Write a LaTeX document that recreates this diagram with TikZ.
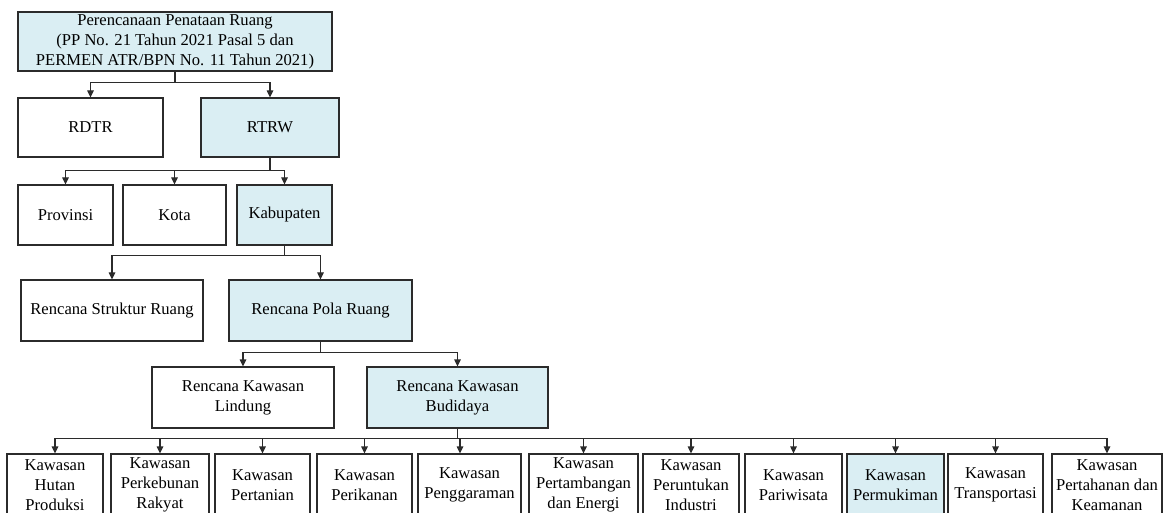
\documentclass[tikz,border=0pt]{standalone}
\usepackage{fontspec}
\setmainfont{Liberation Serif}
\usetikzlibrary{arrows.meta}
\definecolor{boxblue}{HTML}{DAEEF3}
\definecolor{edge}{HTML}{2B2B2B}
\tikzset{
  box/.style={draw=edge, line width=1.2pt, fill=white, align=center, inner sep=0pt,
    font=\fontsize{16.6}{20}\selectfont, anchor=center},
  hl/.style={fill=boxblue},
  conn/.style={draw=edge, line width=1.2pt, -{Triangle[length=7pt,width=6.5pt]}},
}
\begin{document}
\begin{tikzpicture}[x=1pt,y=-1pt]
\useasboundingbox (0,0) rectangle (1165,513);
\clip (0,0) rectangle (1165,513);
\fill[white] (0,0) rectangle (1165,513);
% level 0
\node[box,hl,minimum width=314pt,minimum height=59pt] (top) at (175,41.5)
  {Perencanaan Penataan Ruang\\(PP No. 21 Tahun 2021 Pasal 5 dan\\PERMEN ATR/BPN No. 11 Tahun 2021)};
% level 1
\node[box,minimum width=145pt,minimum height=59pt] (rdtr) at (90.5,127.5) {RDTR};
\node[box,hl,minimum width=138pt,minimum height=59pt] (rtrw) at (270,127.5) {RTRW};
% level 2
\node[box,minimum width=95pt,minimum height=60pt] (prov) at (65.5,215) {Provinsi};
\node[box,minimum width=103pt,minimum height=60pt] (kota) at (174.5,215) {Kota};
\node[box,hl,minimum width=95pt,minimum height=60pt] (kab) at (284.5,215) {Kabupaten};
% level 3
\node[box,minimum width=182pt,minimum height=61pt] (struk) at (112,310.5) {Rencana Struktur Ruang};
\node[box,hl,minimum width=183pt,minimum height=61pt] (pola) at (320.5,310.5) {Rencana Pola Ruang};
% level 4
\node[box,minimum width=182pt,minimum height=61pt] (lind) at (243,397.5) {Rencana Kawasan\\Lindung};
\node[box,hl,minimum width=181pt,minimum height=61pt] (budi) at (457.5,397.5) {Rencana Kawasan\\Budidaya};
% level 5
\node[box,minimum width=96pt,minimum height=62pt] (b1) at (55,485) {Kawasan\\Hutan\\Produksi};
\node[box,minimum width=98pt,minimum height=62pt] (b2) at (160,485) {Kawasan\\Perkebunan\\Rakyat};
\node[box,minimum width=95pt,minimum height=62pt] (b3) at (262.5,485) {Kawasan\\Pertanian};
\node[box,minimum width=95pt,minimum height=62pt] (b4) at (364.5,485) {Kawasan\\Perikanan};
\node[box,minimum width=103pt,minimum height=62pt] (b5) at (469.5,485) {Kawasan\\Penggaraman};
\node[box,minimum width=109pt,minimum height=62pt] (b6) at (583.5,485) {Kawasan\\Pertambangan\\dan Energi};
\node[box,minimum width=96pt,minimum height=62pt] (b7) at (691,485) {Kawasan\\Peruntukan\\Industri};
\node[box,minimum width=97pt,minimum height=62pt] (b8) at (793.5,485) {Kawasan\\Pariwisata};
\node[box,hl,minimum width=97pt,minimum height=62pt] (b9) at (895.5,485) {Kawasan\\Permukiman};
\node[box,minimum width=95pt,minimum height=62pt] (b10) at (995.5,485) {Kawasan\\Transportasi};
\node[box,minimum width=110pt,minimum height=62pt] (b11) at (1107,485) {Kawasan\\Pertahanan dan\\Keamanan};
% connectors
\foreach \c in {rdtr,rtrw}
  \draw[conn] (top.south) |- ([yshift=15pt]\c.north) -- (\c.north);
\foreach \c in {prov,kota,kab}
  \draw[conn] (rtrw.south) |- ([yshift=14pt]\c.north) -- (\c.north);
\foreach \c in {struk,pola}
  \draw[conn] (kab.south) |- ([yshift=24pt]\c.north) -- (\c.north);
\foreach \c in {lind,budi}
  \draw[conn] (pola.south) |- ([yshift=14pt]\c.north) -- (\c.north);
\foreach \c in {b1,b2,b3,b4,b6,b7,b8,b9,b10,b11}
  \draw[conn] (budi.south) |- ([yshift=15pt]\c.north) -- (\c.north);
\draw[conn] (budi.south) |- ([xshift=-9.5pt,yshift=15pt]b5.north) -- ([xshift=-9.5pt]b5.north);
\end{tikzpicture}
\end{document}
